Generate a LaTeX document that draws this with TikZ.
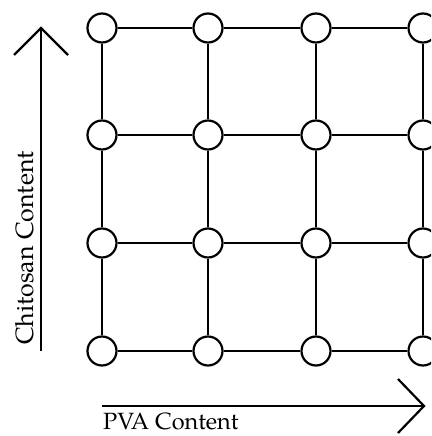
\documentclass[tikz,border=0pt]{standalone}
\usepackage{fontspec}
\setmainfont{TeX Gyre Pagella}
\begin{document}
\begin{tikzpicture}[x=1pt,y=-1pt,line width=2.2pt,
  vtx/.style={circle,draw,fill=white,minimum size=29pt,inner sep=0pt,line width=2.2pt},
  edge/.style={line width=2.2pt},
  axis/.style={line width=2.2pt},
  lbl/.style={inner sep=0pt,font=\fontsize{25}{29}\selectfont}]
\useasboundingbox (0,0) rectangle (431,436);
\clip (0,0) rectangle (431,436);
% vertices
\foreach \x [count=\i] in {102,208,316,423}
  \foreach \y [count=\j] in {28,135,243,351}
    \node[vtx] (n\i\j) at (\x,\y) {};
% edges
\foreach \i in {1,...,4}
  \foreach \j/\k in {1/2,2/3,3/4} {
    \draw[edge] (n\i\j) -- (n\i\k);
    \draw[edge] (n\j\i) -- (n\k\i);
  }
% vertical axis
\coordinate (ytop) at (41,28);
\coordinate (ybot) at (41,351);
\coordinate (yl) at (14,55);
\coordinate (yr) at (68,55);
\draw[axis] (ybot) -- (ytop);
\draw[axis] (yl) -- (ytop) -- (yr);
% horizontal axis
\coordinate (xl) at (102,406);
\coordinate (xr) at (424,406);
\coordinate (xu) at (398,379);
\coordinate (xd) at (398,433);
\draw[axis] (xl) -- (xr);
\draw[axis] (xu) -- (xr) -- (xd);
% labels
\node[lbl,rotate=90,anchor=base] (ylab) at (33,248) {Chitosan Content};
\node[lbl,anchor=base west,font=\fontsize{23.5}{27}\selectfont] (xlab) at (102,429) {PVA Content};
\end{tikzpicture}
\end{document}
